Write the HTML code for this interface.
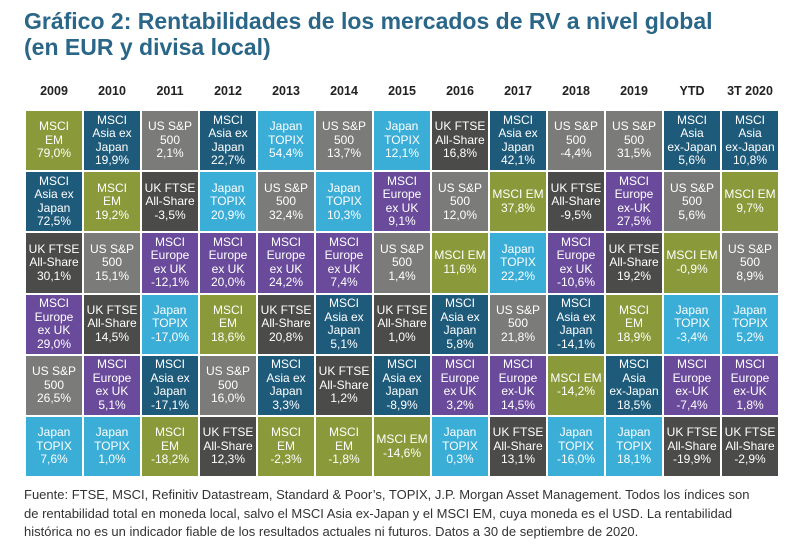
<!DOCTYPE html>
<html><head><meta charset="utf-8"><style>
body{margin:0;width:786px;height:548px;background:#fff;font-family:"Liberation Sans",sans-serif;position:relative;overflow:hidden}
.t{position:absolute;left:24px;top:8px;color:#2a6688;font-weight:bold;font-size:23px;line-height:26px}
.h{position:absolute;top:84px;left:25px;display:grid;grid-template-columns:repeat(13,58px);font-weight:bold;font-size:12.5px;color:#222;text-align:center}
.g{position:absolute;left:25px;top:110px;display:grid;grid-template-columns:repeat(13,58px);grid-template-rows:repeat(6,61.2px);grid-auto-flow:column}
.g div{box-sizing:border-box;border:1px solid #fff;color:#fff;font-size:12px;line-height:13.5px;text-align:center;display:flex;align-items:center;justify-content:center}
.E{background:#8a993a}.A{background:#1e5b7b}.U{background:#7b7b79}.K{background:#4b4b49}.J{background:#3aaed6}.R{background:#6a4b9b}
.f{position:absolute;left:24px;top:486px;width:762px;font-size:13px;line-height:18.5px;color:#333}
</style></head><body>
<div class="t">Gráfico 2: Rentabilidades de los mercados de RV a nivel global<br>(en EUR y divisa local)</div>
<div class="h"><span>2009</span><span>2010</span><span>2011</span><span>2012</span><span>2013</span><span>2014</span><span>2015</span><span>2016</span><span>2017</span><span>2018</span><span>2019</span><span>YTD</span><span>3T 2020</span></div>
<div class="g">
<div class="E">MSCI<br>EM<br>79,0%</div><div class="A">MSCI<br>Asia ex<br>Japan<br>72,5%</div><div class="K">UK FTSE<br>All-Share<br>30,1%</div><div class="R">MSCI<br>Europe<br>ex UK<br>29,0%</div><div class="U">US S&amp;P<br>500<br>26,5%</div><div class="J">Japan<br>TOPIX<br>7,6%</div>
<div class="A">MSCI<br>Asia ex<br>Japan<br>19,9%</div><div class="E">MSCI<br>EM<br>19,2%</div><div class="U">US S&amp;P<br>500<br>15,1%</div><div class="K">UK FTSE<br>All-Share<br>14,5%</div><div class="R">MSCI<br>Europe<br>ex UK<br>5,1%</div><div class="J">Japan<br>TOPIX<br>1,0%</div>
<div class="U">US S&amp;P<br>500<br>2,1%</div><div class="K">UK FTSE<br>All-Share<br>-3,5%</div><div class="R">MSCI<br>Europe<br>ex UK<br>-12,1%</div><div class="J">Japan<br>TOPIX<br>-17,0%</div><div class="A">MSCI<br>Asia ex<br>Japan<br>-17,1%</div><div class="E">MSCI<br>EM<br>-18,2%</div>
<div class="A">MSCI<br>Asia ex<br>Japan<br>22,7%</div><div class="J">Japan<br>TOPIX<br>20,9%</div><div class="R">MSCI<br>Europe<br>ex UK<br>20,0%</div><div class="E">MSCI<br>EM<br>18,6%</div><div class="U">US S&amp;P<br>500<br>16,0%</div><div class="K">UK FTSE<br>All-Share<br>12,3%</div>
<div class="J">Japan<br>TOPIX<br>54,4%</div><div class="U">US S&amp;P<br>500<br>32,4%</div><div class="R">MSCI<br>Europe<br>ex UK<br>24,2%</div><div class="K">UK FTSE<br>All-Share<br>20,8%</div><div class="A">MSCI<br>Asia ex<br>Japan<br>3,3%</div><div class="E">MSCI<br>EM<br>-2,3%</div>
<div class="U">US S&amp;P<br>500<br>13,7%</div><div class="J">Japan<br>TOPIX<br>10,3%</div><div class="R">MSCI<br>Europe<br>ex UK<br>7,4%</div><div class="A">MSCI<br>Asia ex<br>Japan<br>5,1%</div><div class="K">UK FTSE<br>All-Share<br>1,2%</div><div class="E">MSCI<br>EM<br>-1,8%</div>
<div class="J">Japan<br>TOPIX<br>12,1%</div><div class="R">MSCI<br>Europe<br>ex UK<br>9,1%</div><div class="U">US S&amp;P<br>500<br>1,4%</div><div class="K">UK FTSE<br>All-Share<br>1,0%</div><div class="A">MSCI<br>Asia ex<br>Japan<br>-8,9%</div><div class="E">MSCI EM<br>-14,6%</div>
<div class="K">UK FTSE<br>All-Share<br>16,8%</div><div class="U">US S&amp;P<br>500<br>12,0%</div><div class="E">MSCI EM<br>11,6%</div><div class="A">MSCI<br>Asia ex<br>Japan<br>5,8%</div><div class="R">MSCI<br>Europe<br>ex UK<br>3,2%</div><div class="J">Japan<br>TOPIX<br>0,3%</div>
<div class="A">MSCI<br>Asia ex<br>Japan<br>42,1%</div><div class="E">MSCI EM<br>37,8%</div><div class="J">Japan<br>TOPIX<br>22,2%</div><div class="U">US S&amp;P<br>500<br>21,8%</div><div class="R">MSCI<br>Europe<br>ex-UK<br>14,5%</div><div class="K">UK FTSE<br>All-Share<br>13,1%</div>
<div class="U">US S&amp;P<br>500<br>-4,4%</div><div class="K">UK FTSE<br>All-Share<br>-9,5%</div><div class="R">MSCI<br>Europe<br>ex UK<br>-10,6%</div><div class="A">MSCI<br>Asia ex<br>Japan<br>-14,1%</div><div class="E">MSCI EM<br>-14,2%</div><div class="J">Japan<br>TOPIX<br>-16,0%</div>
<div class="U">US S&amp;P<br>500<br>31,5%</div><div class="R">MSCI<br>Europe<br>ex-UK<br>27,5%</div><div class="K">UK FTSE<br>All-Share<br>19,2%</div><div class="E">MSCI<br>EM<br>18,9%</div><div class="A">MSCI<br>Asia<br>ex-Japan<br>18,5%</div><div class="J">Japan<br>TOPIX<br>18,1%</div>
<div class="A">MSCI<br>Asia<br>ex-Japan<br>5,6%</div><div class="U">US S&amp;P<br>500<br>5,6%</div><div class="E">MSCI EM<br>-0,9%</div><div class="J">Japan<br>TOPIX<br>-3,4%</div><div class="R">MSCI<br>Europe<br>ex-UK<br>-7,4%</div><div class="K">UK FTSE<br>All-Share<br>-19,9%</div>
<div class="A">MSCI<br>Asia<br>ex-Japan<br>10,8%</div><div class="E">MSCI EM<br>9,7%</div><div class="U">US S&amp;P<br>500<br>8,9%</div><div class="J">Japan<br>TOPIX<br>5,2%</div><div class="R">MSCI<br>Europe<br>ex-UK<br>1,8%</div><div class="K">UK FTSE<br>All-Share<br>-2,9%</div>
</div>
<div class="f">Fuente: FTSE, MSCI, Refinitiv Datastream, Standard &amp; Poor’s, TOPIX, J.P. Morgan Asset Management. Todos los índices son<br>de rentabilidad total en moneda local, salvo el MSCI Asia ex-Japan y el MSCI EM, cuya moneda es el USD. La rentabilidad<br>histórica no es un indicador fiable de los resultados actuales ni futuros. Datos a 30 de septiembre de 2020.</div>
</body></html>
